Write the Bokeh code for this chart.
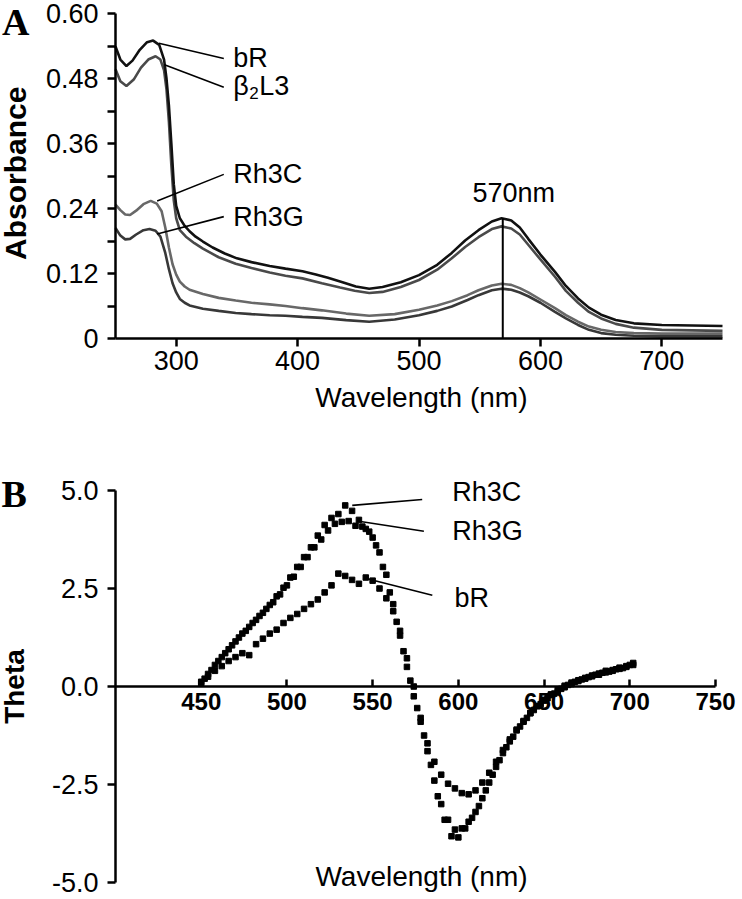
import math
from bokeh.plotting import figure
from bokeh.layouts import column
from bokeh.models import FixedTicker, NumeralTickFormatter, Label, Range1d, ColumnDataSource
from bokeh.embed import file_html
from bokeh.resources import INLINE

# ---------------- Panel A : absorbance spectra ----------------
abs_bR_nm = [250, 254, 259, 264, 270, 276, 281, 286, 290, 292, 294, 296, 298, 300, 303, 307, 311, 316,
             322, 330, 340, 350, 362, 377, 390, 404, 415, 425, 437, 448, 459, 470, 485, 500, 515, 527,
             538, 549, 560, 568, 576, 583, 590, 600, 612, 621, 631, 640, 650, 662, 677, 700, 725, 750]
abs_bR = [0.539, 0.515, 0.503, 0.513, 0.533, 0.547, 0.550, 0.542, 0.515, 0.480, 0.430, 0.360, 0.285,
          0.245, 0.222, 0.208, 0.198, 0.188, 0.179, 0.168, 0.157, 0.148, 0.141, 0.134, 0.129, 0.124,
          0.118, 0.112, 0.104, 0.096, 0.092, 0.095, 0.104, 0.117, 0.136, 0.158, 0.181, 0.200, 0.216,
          0.222, 0.218, 0.205, 0.184, 0.155, 0.123, 0.097, 0.074, 0.057, 0.044, 0.034, 0.028, 0.025,
          0.024, 0.023]

abs_b2L3_nm = [250, 254, 259, 265, 271, 277, 283, 287, 290, 292, 294, 296, 298, 300, 303, 308, 315, 322,
               335, 349, 362, 377, 390, 404, 420, 435, 447, 459, 470, 485, 500, 515, 527, 538, 549, 560,
               568, 576, 583, 590, 600, 612, 621, 631, 640, 650, 662, 677, 700, 725, 750]
abs_b2L3 = [0.497, 0.475, 0.466, 0.478, 0.500, 0.515, 0.521, 0.515, 0.495, 0.460, 0.400, 0.320, 0.255,
            0.222, 0.200, 0.188, 0.176, 0.166, 0.150, 0.138, 0.130, 0.122, 0.116, 0.111, 0.102, 0.094,
            0.088, 0.084, 0.086, 0.095, 0.108, 0.127, 0.148, 0.169, 0.187, 0.202, 0.207, 0.203, 0.192,
            0.173, 0.146, 0.114, 0.088, 0.066, 0.049, 0.037, 0.027, 0.020, 0.016, 0.015, 0.014]

abs_Rh3C_nm = [250, 254, 258, 262, 267, 273, 279, 284, 288, 291, 294, 297, 300, 303, 307, 311, 322, 335,
               349, 362, 377, 390, 404, 420, 440, 459, 480, 500, 515, 527, 540, 549, 560, 568, 576, 583,
               590, 600, 612, 621, 631, 640, 650, 662, 677, 700, 725, 750]
abs_Rh3C = [0.247, 0.237, 0.229, 0.228, 0.236, 0.248, 0.254, 0.249, 0.235, 0.205, 0.168, 0.137, 0.118,
            0.105, 0.096, 0.090, 0.082, 0.075, 0.070, 0.066, 0.063, 0.060, 0.056, 0.052, 0.046, 0.042,
            0.045, 0.053, 0.061, 0.069, 0.080, 0.089, 0.098, 0.101, 0.099, 0.093, 0.085, 0.072, 0.056,
            0.043, 0.031, 0.022, 0.016, 0.012, 0.010, 0.009, 0.009, 0.009]

abs_Rh3G_nm = [250, 254, 258, 262, 267, 273, 278, 283, 287, 291, 294, 297, 300, 303, 307, 311, 322, 335,
               349, 362, 377, 390, 404, 420, 440, 459, 480, 500, 515, 527, 540, 549, 560, 568, 576, 583,
               590, 600, 612, 621, 631, 640, 650, 662, 677, 700, 725, 750]
abs_Rh3G = [0.204, 0.190, 0.183, 0.184, 0.192, 0.200, 0.202, 0.199, 0.188, 0.158, 0.128, 0.102, 0.085,
            0.073, 0.066, 0.061, 0.055, 0.051, 0.047, 0.045, 0.043, 0.042, 0.040, 0.038, 0.034, 0.031,
            0.035, 0.043, 0.051, 0.059, 0.071, 0.080, 0.089, 0.092, 0.090, 0.085, 0.078, 0.066, 0.049,
            0.037, 0.025, 0.016, 0.010, 0.007, 0.005, 0.004, 0.004, 0.004]

abs_x_ticks = [300, 400, 500, 600, 700]
abs_y_ticks = [0, 0.12, 0.24, 0.36, 0.48, 0.60]
abs_y_minor = [0.06, 0.18, 0.30, 0.42, 0.54]
peak_nm = 569
peak_abs = 0.222

# ---------------- Panel B : CD spectra ----------------
cd_bR_nm = [450, 454, 458, 462, 466, 470, 474, 478, 482, 486, 490, 494, 498, 502, 506, 510, 514, 518,
            522, 526, 530, 534, 538, 542, 546, 550, 554, 558, 562, 566, 570, 574, 578, 582, 586, 590,
            594, 598, 602, 606, 610, 614, 618, 622, 626, 630, 634, 638, 642, 646, 650, 654, 658, 662,
            666, 670, 674, 678, 682, 686, 690, 694, 698, 702]
cd_bR = [0.08, 0.25, 0.40, 0.52, 0.65, 0.75, 0.85, 0.80, 1.08, 1.22, 1.35, 1.45, 1.62, 1.75, 1.85, 1.98,
         2.10, 2.22, 2.40, 2.58, 2.88, 2.82, 2.72, 2.62, 2.78, 2.70, 2.50, 2.25, 1.92, 1.42, 0.72, 0.00,
         -0.80, -1.45, -1.92, -2.25, -2.48, -2.60, -2.72, -2.75, -2.65, -2.45, -2.20, -1.92, -1.62, -1.35,
         -1.10, -0.88, -0.68, -0.50, -0.36, -0.22, -0.12, -0.02, 0.06, 0.14, 0.20, 0.26, 0.30, 0.36, 0.40,
         0.45, 0.50, 0.55]

cd_Rh3C_nm = [450, 454, 458, 462, 466, 470, 474, 478, 482, 486, 490, 494, 498, 502, 506, 510, 514, 518,
              522, 526, 530, 534, 538, 542, 546, 550, 554, 558, 562, 566, 570, 574, 578, 582, 586, 590,
              594, 598, 602, 606, 610, 614, 618, 622, 626, 630, 634, 638, 642, 646, 650, 654, 658, 662,
              666, 670, 674, 678, 682, 686, 690, 694, 698, 702]
cd_Rh3C = [0.12, 0.32, 0.55, 0.75, 0.95, 1.15, 1.35, 1.52, 1.70, 1.88, 2.08, 2.30, 2.52, 2.78, 3.05, 3.30,
           3.55, 3.85, 4.12, 4.30, 4.40, 4.62, 4.48, 4.25, 4.02, 3.80, 3.42, 2.85, 2.10, 1.30, 0.50, -0.25,
           -0.90, -1.65, -2.40, -3.00, -3.40, -3.65, -3.62, -3.45, -3.20, -2.85, -2.45, -2.05, -1.70, -1.40,
           -1.12, -0.90, -0.68, -0.50, -0.34, -0.20, -0.08, 0.02, 0.10, 0.16, 0.22, 0.28, 0.33, 0.40, 0.42,
           0.48, 0.52, 0.60]

cd_Rh3G_nm = [452, 456, 460, 464, 468, 472, 476, 480, 484, 488, 492, 496, 500, 504, 508, 512, 516, 520,
              524, 528, 532, 536, 540, 544, 548, 552, 556, 560, 564, 568, 572, 576, 580, 584, 588, 592,
              596, 600, 604, 608, 612, 616, 620, 624, 628, 632, 636, 640, 644, 648, 652, 656, 660, 664,
              668, 672, 676, 680, 684, 688, 692, 696, 700]
cd_Rh3G = [0.20, 0.42, 0.65, 0.85, 1.05, 1.25, 1.42, 1.62, 1.80, 1.98, 2.15, 2.35, 2.58, 2.80, 3.05, 3.30,
           3.55, 3.75, 3.98, 4.15, 4.20, 4.22, 4.10, 4.08, 3.95, 3.60, 3.05, 2.40, 1.65, 0.90, 0.15, -0.55,
           -1.25, -2.00, -2.80, -3.40, -3.82, -3.85, -3.62, -3.35, -3.05, -2.65, -2.25, -1.88, -1.55, -1.28,
           -1.02, -0.80, -0.60, -0.45, -0.30, -0.18, -0.06, 0.04, 0.12, 0.18, 0.24, 0.30, 0.35, 0.38, 0.44,
           0.47, 0.55]

cd_x_ticks = [450, 500, 550, 600, 650, 700, 750]
cd_y_ticks = [-5, -2.5, 0, 2.5, 5]

FONT = "Liberation Sans"
W = 742

# ---- layout (pixels) : the frame fills each figure, axes are placed inside it ----
HA = 430
A_x0_px, A_x1_px = 115, 722          # where 250 nm and 750 nm fall
A_ytop_px, A_y0_px = 13, 338         # where 0.60 and 0 fall
ax_scale = (A_x1_px - A_x0_px) / 500.0
ay_scale = (A_y0_px - A_ytop_px) / 0.6
A_xr = Range1d(250 - A_x0_px / ax_scale, 750 + (W - A_x1_px) / ax_scale)
A_yr = Range1d(-(HA - A_y0_px) / ay_scale, 0.6 + A_ytop_px / ay_scale)

HB = 468
B_x0_px, B_x1_px = 115, 715          # where 400 nm and 750 nm fall
B_ytop_px, B_ybot_px = 60, 452       # where +5 and -5 fall
bx_scale = (B_x1_px - B_x0_px) / 350.0
by_scale = (B_ybot_px - B_ytop_px) / 10.0
B_xr = Range1d(400 - B_x0_px / bx_scale, 750 + (W - B_x1_px) / bx_scale)
B_yr = Range1d(-5 - (HB - B_ybot_px) / by_scale, 5 + B_ytop_px / by_scale)


def lab(p, x, y, text, size="27px", align="left", baseline="middle", font=FONT, style="normal",
        angle=0.0, **kw):
    p.add_layout(Label(x=x, y=y, text=text, text_align=align, text_baseline=baseline, text_font=font,
                       text_font_style=style, text_font_size=size, text_color="black", angle=angle, **kw))


# ======================= Panel A =======================
pA = figure(width=W, height=HA, x_range=A_xr, y_range=A_yr, output_backend="svg",
            toolbar_location=None, min_border=0)
pA.outline_line_color = None
pA.grid.visible = False

xa = pA.xaxis[0]
xa.fixed_location = 0
xa.bounds = (250, 750)
xa.ticker = FixedTicker(ticks=abs_x_ticks)
xa.major_tick_in = 0
xa.major_tick_out = 8
xa.minor_tick_line_color = None
xa.axis_line_width = 2.5
xa.major_tick_line_width = 2.5
xa.major_label_text_font = FONT
xa.major_label_text_font_size = "27px"
xa.major_label_text_color = "black"
xa.major_label_standoff = 4

ya = pA.yaxis[0]
ya.fixed_location = 250
ya.bounds = (0, 0.6)
ya.ticker = FixedTicker(ticks=abs_y_ticks, minor_ticks=abs_y_minor)
ya.formatter = NumeralTickFormatter(format="0.00")
ya.major_label_overrides = {0: "0"}
ya.major_tick_in = 0
ya.major_tick_out = 8
ya.minor_tick_in = 0
ya.minor_tick_out = 8
ya.axis_line_width = 2.5
ya.major_tick_line_width = 2.5
ya.minor_tick_line_width = 2.5
ya.major_label_text_font = FONT
ya.major_label_text_font_size = "27px"
ya.major_label_text_color = "black"
ya.major_label_standoff = 9

pA.line(abs_Rh3G_nm, abs_Rh3G, line_color="#383838", line_width=2.6)
pA.line(abs_Rh3C_nm, abs_Rh3C, line_color="#686868", line_width=2.6)
pA.line(abs_b2L3_nm, abs_b2L3, line_color="#4a4a4a", line_width=2.6)
pA.line(abs_bR_nm, abs_bR, line_color="#111111", line_width=2.6)

pA.segment(x0=[peak_nm], y0=[0], x1=[peak_nm], y1=[peak_abs], line_color="black", line_width=2)
lab(pA, 578, 0.268, "570nm", align="center")

leadA = ColumnDataSource(dict(x0=[285.7, 289.8, 284.3, 284.3], y0=[0.545, 0.506, 0.254, 0.193],
                              x1=[339.2, 339.2, 339.2, 339.2], y1=[0.517, 0.464, 0.303, 0.225]))
pA.segment(x0="x0", y0="y0", x1="x1", y1="y1", source=leadA, line_color="black", line_width=1.6)
for txt, yy in [("bR", 0.517), ("Rh3C", 0.304), ("Rh3G", 0.225)]:
    lab(pA, 347, yy, txt)
lab(pA, 347, 0.466, "β")
lab(pA, 347, 0.466, "2", size="17px", x_offset=16, y_offset=-7)
lab(pA, 347, 0.466, "L3", x_offset=26)

lab(pA, 502, -0.108, "Wavelength (nm)", size="28px", align="center")
lab(pA, 168, 0.305, "Absorbance", size="30px", align="center", style="bold", angle=math.pi / 2)
lab(pA, 156.5, A_yr.end, "A", size="38px", baseline="top", font="Liberation Serif", style="bold")

# ======================= Panel B =======================
pB = figure(width=W, height=HB, x_range=B_xr, y_range=B_yr, output_backend="svg",
            toolbar_location=None, min_border=0)
pB.outline_line_color = None
pB.grid.visible = False

xb = pB.xaxis[0]
xb.fixed_location = 0
xb.bounds = (400, 750)
xb.ticker = FixedTicker(ticks=cd_x_ticks)
xb.major_tick_in = 7
xb.major_tick_out = 0
xb.minor_tick_line_color = None
xb.axis_line_width = 2.5
xb.major_tick_line_width = 2.5
xb.major_label_text_font = FONT
xb.major_label_text_font_style = "bold"
xb.major_label_text_font_size = "24px"
xb.major_label_text_color = "black"
xb.major_label_standoff = 6

yb = pB.yaxis[0]
yb.fixed_location = 400
yb.bounds = (-5, 5)
yb.ticker = FixedTicker(ticks=cd_y_ticks)
yb.formatter = NumeralTickFormatter(format="0.0")
yb.major_tick_in = 0
yb.major_tick_out = 8
yb.minor_tick_line_color = None
yb.axis_line_width = 2.5
yb.major_tick_line_width = 2.5
yb.major_label_text_font = FONT
yb.major_label_text_font_size = "27px"
yb.major_label_text_color = "black"
yb.major_label_standoff = 9

for xs, ys in [(cd_bR_nm, cd_bR), (cd_Rh3C_nm, cd_Rh3C), (cd_Rh3G_nm, cd_Rh3G)]:
    pB.scatter(xs, ys, marker="square", size=5.5, color="black")

leadB = ColumnDataSource(dict(x0=[538.1, 542.9, 546.8], y0=[4.62, 4.21, 2.75],
                              x1=[578.9, 579.9, 584.8], y1=[4.77, 3.96, 2.33]))
pB.segment(x0="x0", y0="y0", x1="x1", y1="y1", source=leadB, line_color="black", line_width=1.6)
for txt, xx, yy in [("Rh3C", 596.4, 4.96), ("Rh3G", 596.4, 3.96), ("bR", 597.8, 2.25)]:
    lab(pB, xx, yy, txt)

lab(pB, 578.5, -4.85, "Wavelength (nm)", size="28px", align="center")
lab(pB, 341, 0.0, "Theta", size="28px", align="center", style="bold", angle=math.pi / 2)
lab(pB, 333.5, 4.9, "B", size="38px", font="Liberation Serif", style="bold")

layout = column(pA, pB)
open("out.html", "w").write(file_html(layout, INLINE))
